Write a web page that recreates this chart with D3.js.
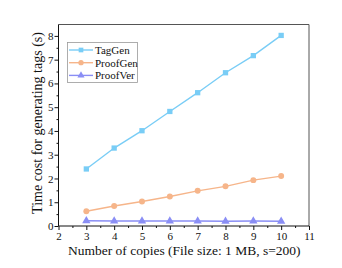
<!DOCTYPE html>
<html><head><meta charset="utf-8">
<script src="https://cdn.jsdelivr.net/npm/d3@7"></script>
<style>body{margin:0;background:#fff}svg{display:block}text{font-family:"Liberation Serif","Times New Roman",serif}</style>
</head><body><svg id="c" width="342" height="268"></svg>
<script>
const copies = [3,4,5,6,7,8,9,10];
const tagGen = [2.40,3.28,4.01,4.82,5.61,6.45,7.17,8.02];
const proofGen = [0.62,0.84,1.03,1.24,1.48,1.67,1.93,2.10];
const proofVer = [0.22,0.21,0.21,0.21,0.21,0.20,0.21,0.20];
const seriesNames = ["TagGen","ProofGen","ProofVer"];
const seriesColors = ["#79cdf6","#f6b58a","#8a8ef5"];
const xTicks = [2,3,4,5,6,7,8,9,10,11];
const yTicks = [0,1,2,3,4,5,6,7,8];

const FONT = "'Liberation Serif','Times New Roman',serif";
const svg = d3.select("#c");
const L=58.5,R=309,T=24.5,B=226;
const x = d3.scaleLinear().domain([2,11]).range([L,R]);
const y = d3.scaleLinear().domain([0,8.48]).range([B,T]);

svg.append("line").attr("x1",L).attr("x2",R).attr("y1",T).attr("y2",T).attr("stroke","#555").attr("stroke-width",1);
svg.append("line").attr("x1",R).attr("x2",R).attr("y1",T).attr("y2",B).attr("stroke","#555").attr("stroke-width",1);

const xa = svg.append("g").attr("transform",`translate(0,${B})`)
  .call(d3.axisBottom(x).tickValues(xTicks).tickSize(4).tickSizeOuter(0).tickFormat(d3.format("d")));
const xm = svg.append("g").attr("transform",`translate(0,${B})`)
  .call(d3.axisBottom(x).tickValues(d3.range(2.5,11,1)).tickSize(2).tickFormat(""));
xm.select(".domain").remove();
const ya = svg.append("g").attr("transform",`translate(${L},0)`)
  .call(d3.axisLeft(y).tickValues(yTicks).tickSize(4).tickSizeOuter(0).tickFormat(d3.format("d")));
const ym = svg.append("g").attr("transform",`translate(${L},0)`)
  .call(d3.axisLeft(y).tickValues(d3.range(0.5,8.5,1)).tickSize(2).tickFormat(""));
ym.select(".domain").remove();
[xa,ya].forEach(a=>{a.attr("font-family",FONT);a.selectAll("text").attr("font-size",11).attr("fill","#111");a.select(".domain").attr("stroke","#111");});
svg.selectAll(".tick line").attr("stroke","#111");
ya.select(".domain").attr("d",`M0,${T}V${B}`);
xa.select(".domain").attr("d",`M${L},0H${R}`);
ya.selectAll("text").attr("x",-5);
xa.selectAll("text").attr("y",6);

svg.append("text").attr("x",(L+R)/2+0.5).attr("y",255).attr("text-anchor","middle").attr("font-size",13.5).attr("fill","#111")
  .attr("font-family",FONT).text("Number of copies (File size: 1 MB, s=200)");
svg.append("text").attr("transform",`translate(42,123) rotate(-90)`).attr("text-anchor","middle").attr("font-size",14).attr("fill","#111")
  .attr("font-family",FONT).text("Time cost for generating tags (s)");

const data = [tagGen,proofGen,proofVer];
const line = d3.line().x((d,i)=>x(copies[i])).y(d=>y(d));
const shapes = [d3.symbolSquare,d3.symbolCircle,d3.symbolTriangle];
data.forEach((s,k)=>{
  svg.append("path").datum(s).attr("d",line).attr("fill","none").attr("stroke",seriesColors[k]).attr("stroke-width",1.4);
  svg.selectAll(null).data(s).enter().append("path")
    .attr("transform",(d,i)=>`translate(${x(copies[i])},${y(d)})`)
    .attr("d",d3.symbol().type(shapes[k]).size(k===2?30:28)).attr("fill",seriesColors[k]);
});

const lg = svg.append("g");
lg.append("rect").attr("x",67.5).attr("y",42.5).attr("width",70).attr("height",40).attr("fill","#fff").attr("stroke","#999").attr("stroke-width",0.8);
seriesNames.forEach((n,k)=>{
  const yy = 50+k*12.7;
  lg.append("line").attr("x1",69).attr("x2",93).attr("y1",yy).attr("y2",yy).attr("stroke",seriesColors[k]).attr("stroke-width",1.4);
  lg.append("path").attr("transform",`translate(81,${yy})`).attr("d",d3.symbol().type(shapes[k]).size(22)).attr("fill",seriesColors[k]);
  lg.append("text").attr("x",95).attr("y",yy+3.8).attr("font-size",11).attr("fill","#111").attr("font-family",FONT).text(n);
});
</script></body></html>
